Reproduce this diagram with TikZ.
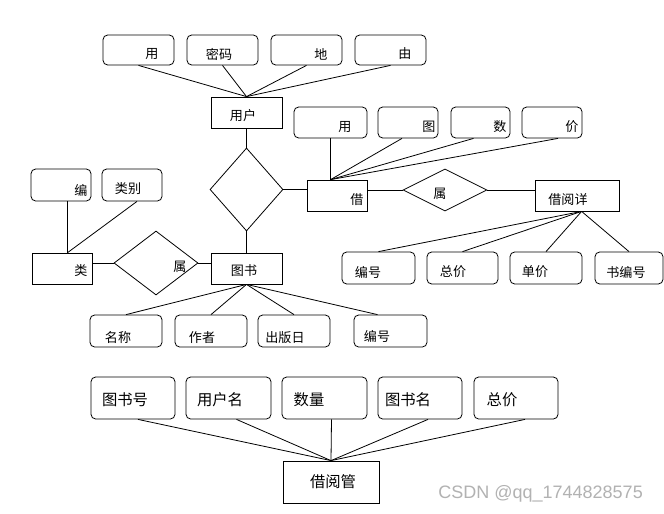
\documentclass[tikz,border=0pt]{standalone}
\usepackage{fontspec}
\setmainfont{Liberation Sans}
\newfontfamily\cjk{Noto Sans CJK SC}
\usetikzlibrary{shapes.geometric,fit,calc}
\begin{document}
\begin{tikzpicture}[x=0.75pt,y=-0.75pt,
  every path/.style={line width=0.6pt},
  attr/.style={draw,rounded corners=3.5pt,inner sep=0pt,line width=0.6pt,fit={#1}},
  ent/.style={draw,inner sep=0pt,line width=0.6pt,fit={#1}},
  rel/.style={draw,diamond,inner sep=0pt,line width=0.6pt},
  sm/.style={inner sep=0pt,font=\cjk\fontsize{9.8pt}{11pt}\selectfont},
  big/.style={inner sep=0pt,font=\cjk\fontsize{11.5pt}{13pt}\selectfont},
  con/.style={draw,line width=0.6pt}]
\useasboundingbox (0,0) rectangle (664,514);
\fill[white] (0,0) rectangle (664,514);

% ---- user ----
\node[attr={(103,35)(174,65)}] (u1) {};
\node[attr={(187,35)(258,65)}] (u2) {};
\node[attr={(271,35)(342,65)}] (u3) {};
\node[attr={(355,35)(426,65)}] (u4) {};
\node[sm] (u1t) at (152,54) {用};
\node[sm] (u2t) at (219,54) {密码};
\node[sm] (u3t) at (321,54) {地};
\node[sm] (u4t) at (405,54) {由};
\node[ent={(211,97)(282,128)}] (user) {};
\node[sm] (usert) at (243,116) {用户};
\foreach \n in {u1,u2,u3,u4} \draw[con] (\n.south) -- (user.north);

% ---- relation diamond 1 ----
\node[rel,minimum width=54.75pt,minimum height=62.25pt] (d1) at (246.5,189.5) {};
\draw[con] (user.south) -- (d1.north);

% ---- borrow ----
\node[ent={(307,180)(367,211)}] (borrow) {};
\node[sm] (borrowt) at (357,200) {借};
\node[attr={(294,107)(367,138)}] (b1) {};
\node[attr={(378,107)(438,138)}] (b2) {};
\node[attr={(451,107)(510,138)}] (b3) {};
\node[attr={(522,107)(582,138)}] (b4) {};
\node[sm] (b1t) at (345,127) {用};
\node[sm] (b2t) at (429,127) {图};
\node[sm] (b3t) at (500,127) {数};
\node[sm] (b4t) at (572,127) {价};
\coordinate (bt) at ($(borrow.north west)+(24,0)$);
\draw[con] (bt |- b1.south) -- (bt);
\draw[con] ($(b2.south)+(-6,0)$) -- (bt);
\draw[con] ($(b3.south)+(-7,0)$) -- (bt);
\draw[con] ($(b4.south)+(6,0)$) -- (bt);
\draw[con] (d1.east) -- (d1.east -| borrow.west);

% ---- relation diamond 2 ----
\node[rel,minimum width=63pt,minimum height=31.5pt] (d2) at (445,190) {};
\node[sm] (d2t) at (440,194) {属};
\draw[con] (borrow.east |- d2.west) -- (d2.west);

% ---- borrow detail ----
\node[ent={(535,180)(619,211)}] (detail) {};
\node[sm] (detailt) at (568,200) {借阅详};
\draw[con] (d2.east) -- (d2.east -| detail.west);
\node[attr={(342,252)(415,284)}] (e1) {};
\node[attr={(427,252)(498,284)}] (e2) {};
\node[attr={(510,252)(582,284)}] (e3) {};
\node[attr={(595,252)(663,284)}] (e4) {};
\node[sm] (e1t) at (368,272) {编号};
\node[sm] (e2t) at (453,272) {总价};
\node[sm] (e3t) at (535,272) {单价};
\node[sm] (e4t) at (626,272) {书编号};
\coordinate (dt) at ($(detail.south west)+(47,0)$);
\foreach \n in {e1,e2,e3,e4} \draw[con] (\n.north) -- (dt);

% ---- category ----
\node[ent={(32,253)(92,284)}] (cat) {};
\node[sm] (catt) at (81,271) {类};
\node[attr={(31,169)(91,201)}] (c1) {};
\node[attr={(102,169)(162,201)}] (c2) {};
\node[sm] (c1t) at (81,190) {编};
\node[sm] (c2t) at (128,189) {类别};
\coordinate (ct) at ($(cat.north west)+(36,0)$);
\draw[con] (ct |- c1.south) -- (ct);
\draw[con] ($(c2.south)+(5,0)$) -- (ct);

% ---- relation diamond 3 ----
\node[rel,minimum width=63pt,minimum height=48pt] (d3) at (156,263) {};
\node[sm] (d3t) at (180,267) {属};
\draw[con] (d3.west -| cat.east) -- (d3.west);

% ---- book ----
\node[ent={(211,253)(282,284)}] (book) {};
\node[sm] (bookt) at (244,271) {图书};
\draw[con] (d3.east) -- (d3.east -| book.west);
\draw[con] (d1.south) -- (book.north);
\node[attr={(90,315)(162,347)}] (k1) {};
\node[attr={(175,315)(247,347)}] (k2) {};
\node[attr={(258,315)(330,347)}] (k3) {};
\node[attr={(354,315)(427,347)}] (k4) {};
\node[sm] (k1t) at (118,338) {名称};
\node[sm] (k2t) at (202,338) {作者};
\node[sm] (k3t) at (285,338) {出版日};
\node[sm] (k4t) at (377,336) {编号};
\draw[con] (k1.north) -- (book.south);
\draw[con] (k2.north) -- (book.south);
\draw[con] (k3.north) -- (book.south);
\draw[con] ($(k4.north)+(-13,0)$) -- (book.south);

% ---- borrow management ----
\node[attr={(91,377)(175,419)}] (m1) {};
\node[attr={(186,377)(271,419)}] (m2) {};
\node[attr={(282,377)(367,419)}] (m3) {};
\node[attr={(378,377)(462,419)}] (m4) {};
\node[attr={(474,377)(558,419)}] (m5) {};
\node[big] (m1t) at (125,400) {图书号};
\node[big] (m2t) at (220,400) {用户名};
\node[big] (m3t) at (309,400) {数量};
\node[big] (m4t) at (408,400) {图书名};
\node[big] (m5t) at (502,400) {总价};
\node[ent={(283,461)(379,503)}] (mgr) {};
\node[big] (mgrt) at (333,482) {借阅管};
\draw[con] ($(m1.south)+(5,0)$) -- (mgr.north);
\draw[con] ($(m2.south)+(8,0)$) -- (mgr.north);
\draw[con] ($(m3.south)+(7,0)$) -- (mgr.north);
\draw[con] ($(m4.south)+(8,0)$) -- (mgr.north);
\draw[con] ($(m5.south)+(9,0)$) -- (mgr.north);

% ---- watermark ----
\node[inner sep=0pt,anchor=west,text=black!30,font=\fontsize{13.5pt}{15pt}\selectfont] (wm) at (438,494) {CSDN @qq\_1744828575};
\end{tikzpicture}
\end{document}
